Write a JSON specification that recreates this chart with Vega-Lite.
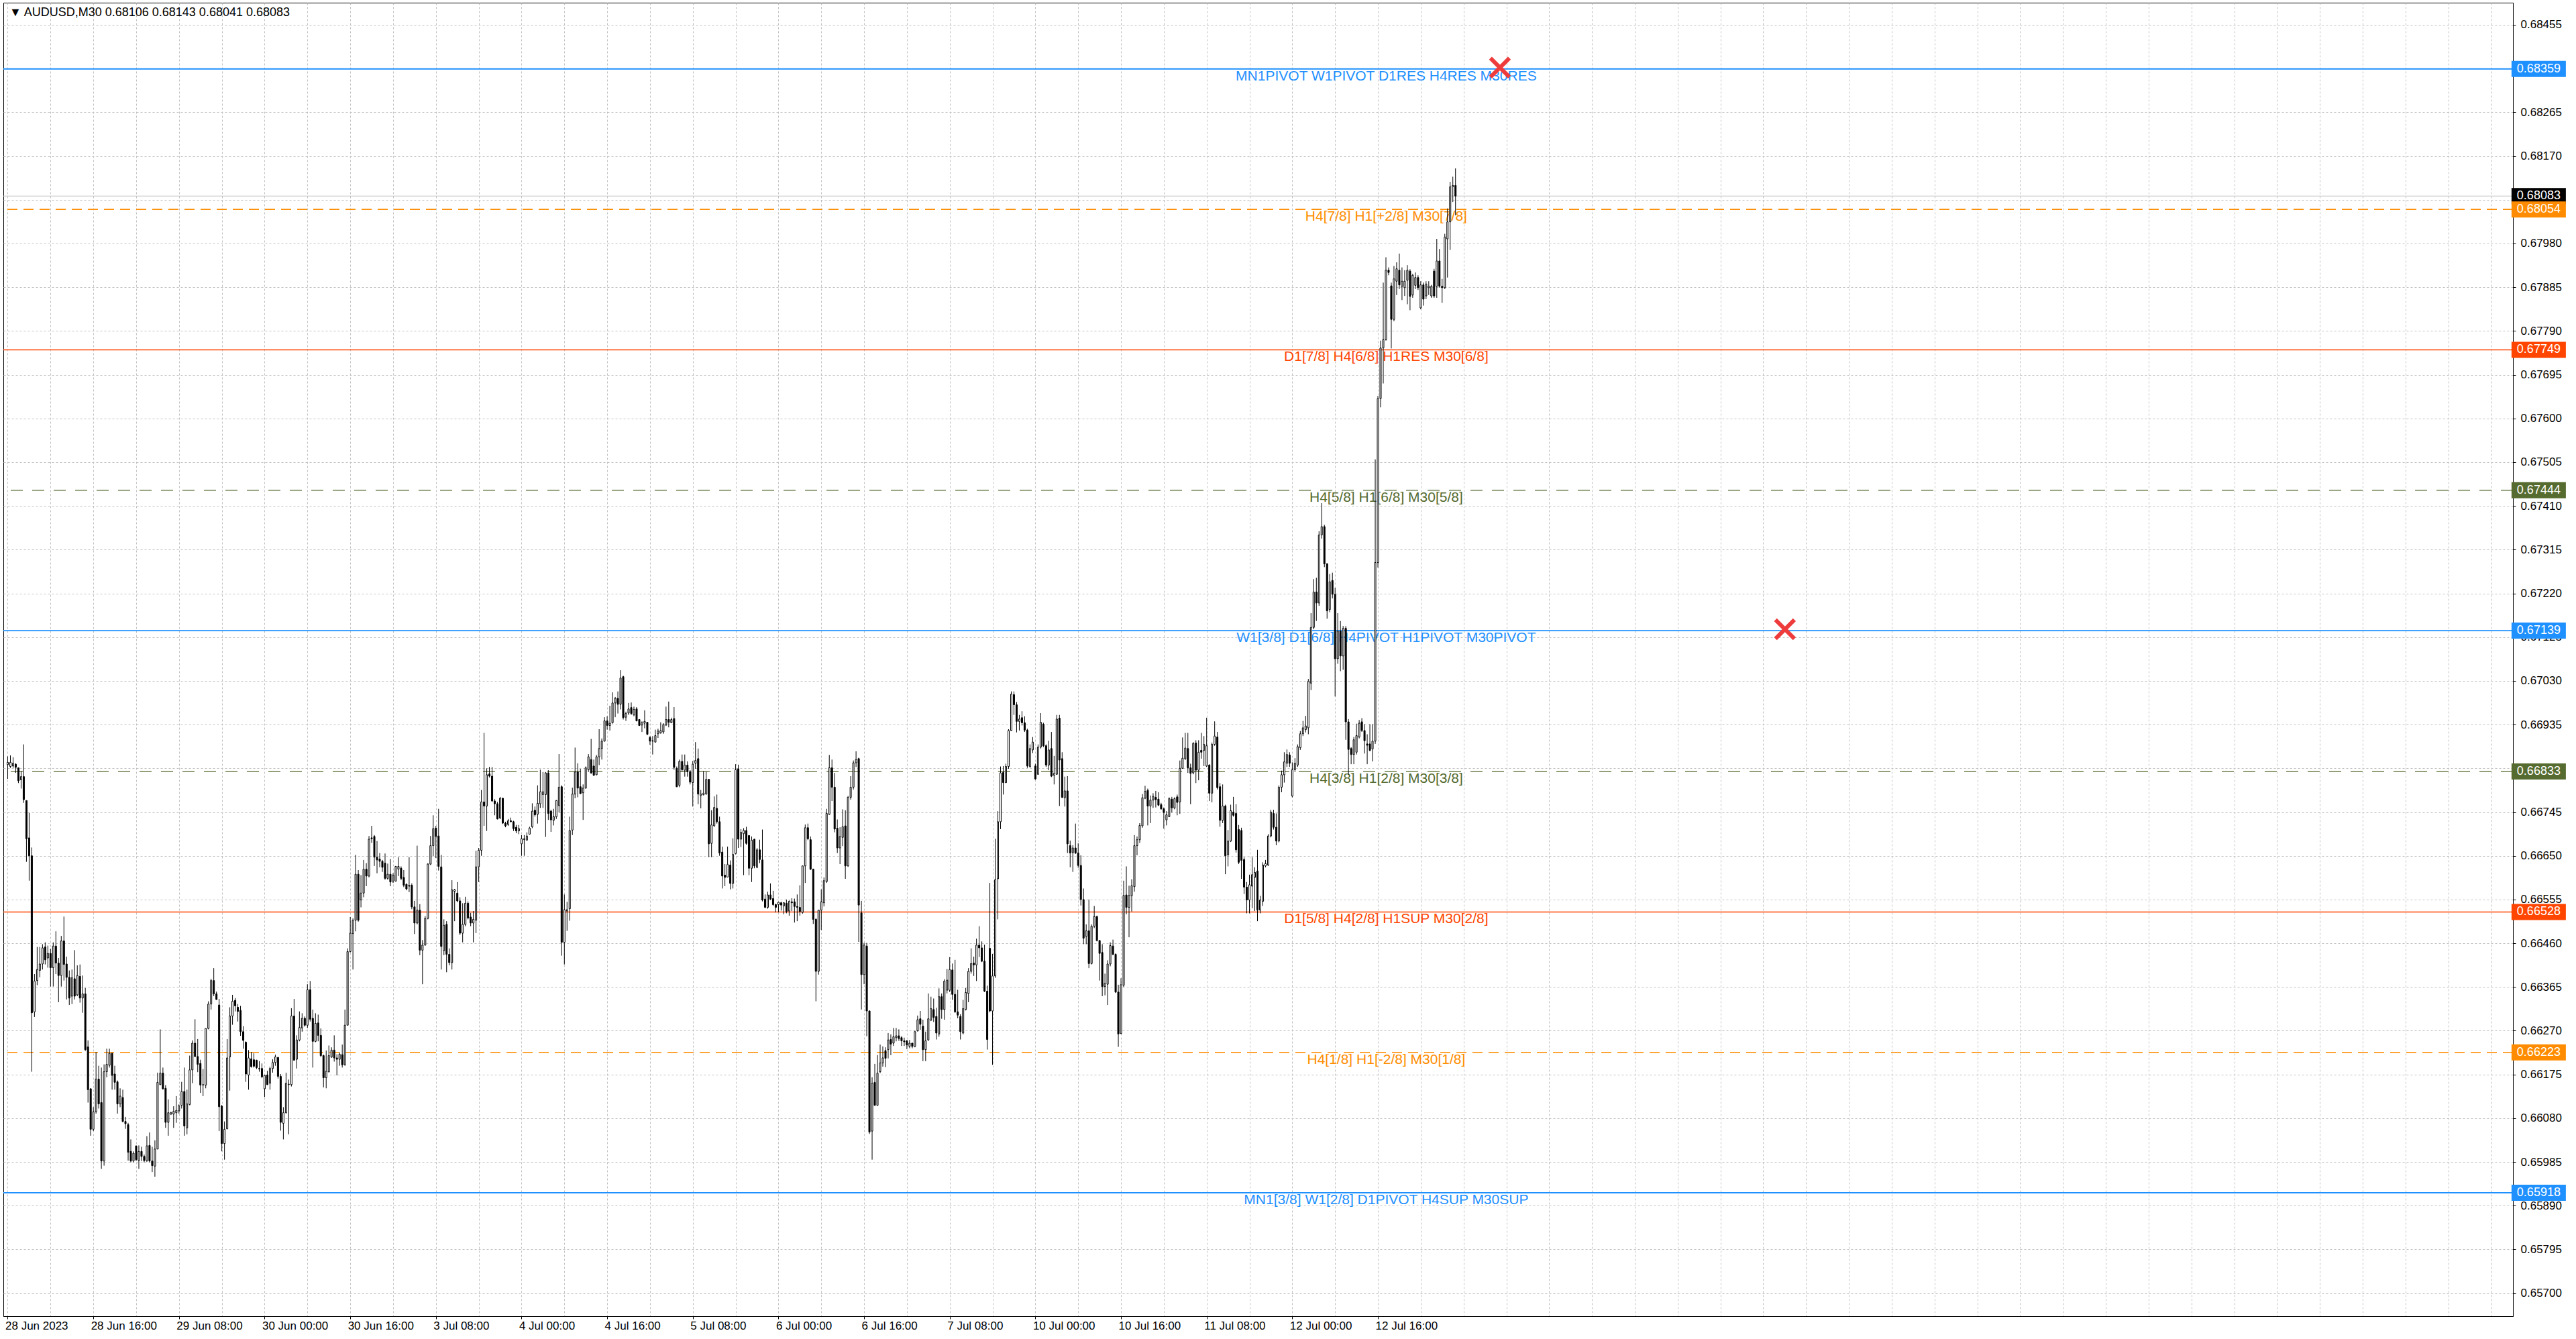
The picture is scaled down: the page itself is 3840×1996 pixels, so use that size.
{
  "$schema": "https://vega.github.io/schema/vega-lite/v6.json",
  "width": 3741,
  "height": 1958,
  "padding": {"left": 4, "top": 4, "right": 0, "bottom": 0},
  "background": "#ffffff",
  "config": {
    "view": {"stroke": "#000000", "strokeWidth": 1},
    "font": "Liberation Sans",
    "axis": {
      "grid": true, "gridColor": "#c0c0c0", "gridDash": [3, 3], "gridWidth": 1,
      "domainColor": "#000000", "domainWidth": 1,
      "tickColor": "#000000", "tickSize": 4, "tickWidth": 1,
      "labelFont": "Liberation Sans", "labelFontSize": 17, "labelColor": "#000000",
      "labelOverlap": false, "labelFlush": false, "labelBound": false
    }
  },
  "datasets": {
    "header": [{"t": "▼ AUDUSD,M30  0.68106 0.68143 0.68041 0.68083"}],
    "levels": [
      {"p": 0.68359, "k": "mn", "t": "MN1PIVOT W1PIVOT D1RES H4RES M30RES"},
      {"p": 0.68083, "k": "cur", "t": ""},
      {"p": 0.68054, "k": "oct", "t": "H4[7/8] H1[+2/8] M30[7/8]"},
      {"p": 0.67749, "k": "rng", "t": "D1[7/8] H4[6/8] H1RES M30[6/8]"},
      {"p": 0.67444, "k": "qtr", "t": "H4[5/8] H1[6/8] M30[5/8]"},
      {"p": 0.67139, "k": "piv", "t": "W1[3/8] D1[6/8] H4PIVOT H1PIVOT M30PIVOT"},
      {"p": 0.66833, "k": "qtr", "t": "H4[3/8] H1[2/8] M30[3/8]"},
      {"p": 0.66528, "k": "rng", "t": "D1[5/8] H4[2/8] H1SUP M30[2/8]"},
      {"p": 0.66223, "k": "oct", "t": "H4[1/8] H1[-2/8] M30[1/8]"},
      {"p": 0.65918, "k": "mn", "t": "MN1[3/8] W1[2/8] D1PIVOT H4SUP M30SUP"}
    ],
    "crosses": [
      {"i": 557.6, "p": 0.68362},
      {"i": 664.1, "p": 0.67142}
    ],
    "candles": [
{"i":0,"o":0.66848,"h":0.66866,"l":0.66817,"c":0.66853},
{"i":1,"o":0.66844,"h":0.66868,"l":0.66841,"c":0.66853},
{"i":2,"o":0.66845,"h":0.66864,"l":0.66841,"c":0.66851},
{"i":3,"o":0.66849,"h":0.66851,"l":0.6683,"c":0.66842},
{"i":4,"o":0.66841,"h":0.66842,"l":0.66808,"c":0.66813},
{"i":5,"o":0.66815,"h":0.66834,"l":0.66796,"c":0.66822},
{"i":6,"o":0.66822,"h":0.66892,"l":0.66765,"c":0.66772},
{"i":7,"o":0.6677,"h":0.6677,"l":0.66637,"c":0.66687},
{"i":8,"o":0.66689,"h":0.66743,"l":0.66596,"c":0.6665},
{"i":9,"o":0.6665,"h":0.66668,"l":0.66181,"c":0.66309},
{"i":10,"o":0.66311,"h":0.66393,"l":0.663,"c":0.66378},
{"i":11,"o":0.66379,"h":0.66452,"l":0.66369,"c":0.66403},
{"i":12,"o":0.66401,"h":0.66452,"l":0.66386,"c":0.66415},
{"i":13,"o":0.66415,"h":0.66458,"l":0.66403,"c":0.6645},
{"i":14,"o":0.66452,"h":0.66462,"l":0.66414,"c":0.66424},
{"i":15,"o":0.66428,"h":0.66455,"l":0.66407,"c":0.66438},
{"i":16,"o":0.66438,"h":0.66448,"l":0.66366,"c":0.66407},
{"i":17,"o":0.66407,"h":0.66462,"l":0.66366,"c":0.66454},
{"i":18,"o":0.66454,"h":0.66486,"l":0.66393,"c":0.66417},
{"i":19,"o":0.66417,"h":0.66428,"l":0.66332,"c":0.6639},
{"i":20,"o":0.6639,"h":0.66476,"l":0.66366,"c":0.66465},
{"i":21,"o":0.66465,"h":0.66518,"l":0.66379,"c":0.66414},
{"i":22,"o":0.66415,"h":0.66431,"l":0.66338,"c":0.66386},
{"i":23,"o":0.66386,"h":0.66401,"l":0.66326,"c":0.66341},
{"i":24,"o":0.66345,"h":0.66403,"l":0.66328,"c":0.66385},
{"i":25,"o":0.66383,"h":0.66445,"l":0.66338,"c":0.66345},
{"i":26,"o":0.66348,"h":0.66412,"l":0.66345,"c":0.6639},
{"i":27,"o":0.66388,"h":0.66414,"l":0.66331,"c":0.66341},
{"i":28,"o":0.66341,"h":0.6639,"l":0.66309,"c":0.6635},
{"i":29,"o":0.6635,"h":0.66363,"l":0.66226,"c":0.66229},
{"i":30,"o":0.66235,"h":0.66249,"l":0.66114,"c":0.66142},
{"i":31,"o":0.66144,"h":0.66145,"l":0.66042,"c":0.66056},
{"i":32,"o":0.66056,"h":0.66104,"l":0.66052,"c":0.66094},
{"i":33,"o":0.66094,"h":0.66224,"l":0.6609,"c":0.66165},
{"i":34,"o":0.66165,"h":0.66194,"l":0.66101,"c":0.66111},
{"i":35,"o":0.66114,"h":0.6619,"l":0.6597,"c":0.65987},
{"i":36,"o":0.65987,"h":0.66197,"l":0.65977,"c":0.66181},
{"i":37,"o":0.66181,"h":0.66231,"l":0.66169,"c":0.66197},
{"i":38,"o":0.66195,"h":0.66231,"l":0.6619,"c":0.66221},
{"i":39,"o":0.66221,"h":0.66222,"l":0.66142,"c":0.66173},
{"i":40,"o":0.66176,"h":0.66194,"l":0.66142,"c":0.66158},
{"i":41,"o":0.66159,"h":0.66162,"l":0.6609,"c":0.66111},
{"i":42,"o":0.66111,"h":0.66145,"l":0.66104,"c":0.66128},
{"i":43,"o":0.66125,"h":0.66142,"l":0.66071,"c":0.66073},
{"i":44,"o":0.66073,"h":0.66083,"l":0.66057,"c":0.66068},
{"i":45,"o":0.66066,"h":0.6607,"l":0.65988,"c":0.66006},
{"i":46,"o":0.66008,"h":0.66034,"l":0.65984,"c":0.65987},
{"i":47,"o":0.65987,"h":0.66008,"l":0.65984,"c":0.66004},
{"i":48,"o":0.6602,"h":0.6602,"l":0.65987,"c":0.6599},
{"i":49,"o":0.65988,"h":0.66021,"l":0.6597,"c":0.66008},
{"i":50,"o":0.66008,"h":0.66018,"l":0.65987,"c":0.65997},
{"i":51,"o":0.65997,"h":0.66001,"l":0.65984,"c":0.65988},
{"i":52,"o":0.65988,"h":0.66041,"l":0.65985,"c":0.6602},
{"i":53,"o":0.66021,"h":0.66049,"l":0.65984,"c":0.65987},
{"i":54,"o":0.65987,"h":0.66018,"l":0.65963,"c":0.65977},
{"i":55,"o":0.65976,"h":0.66032,"l":0.65953,"c":0.66013},
{"i":56,"o":0.66013,"h":0.66179,"l":0.66013,"c":0.66158},
{"i":57,"o":0.66153,"h":0.66273,"l":0.66152,"c":0.66178},
{"i":58,"o":0.66178,"h":0.6619,"l":0.66142,"c":0.66144},
{"i":59,"o":0.66145,"h":0.66152,"l":0.66059,"c":0.66071},
{"i":60,"o":0.66071,"h":0.66121,"l":0.66042,"c":0.66092},
{"i":61,"o":0.66089,"h":0.66094,"l":0.66087,"c":0.66092},
{"i":62,"o":0.66089,"h":0.66106,"l":0.66059,"c":0.66095},
{"i":63,"o":0.66092,"h":0.66128,"l":0.6607,"c":0.66097},
{"i":64,"o":0.66096,"h":0.6611,"l":0.6609,"c":0.66107},
{"i":65,"o":0.66108,"h":0.66159,"l":0.66101,"c":0.66138},
{"i":66,"o":0.66138,"h":0.6619,"l":0.66042,"c":0.66063},
{"i":67,"o":0.66059,"h":0.66142,"l":0.66045,"c":0.66111},
{"i":68,"o":0.6611,"h":0.66216,"l":0.66108,"c":0.66185},
{"i":69,"o":0.66185,"h":0.66249,"l":0.66156,"c":0.66243},
{"i":70,"o":0.66243,"h":0.66295,"l":0.66213,"c":0.66214},
{"i":71,"o":0.66214,"h":0.66252,"l":0.6618,"c":0.66197},
{"i":72,"o":0.66199,"h":0.66207,"l":0.66135,"c":0.66152},
{"i":73,"o":0.66152,"h":0.66187,"l":0.66128,"c":0.66153},
{"i":74,"o":0.66152,"h":0.66275,"l":0.66145,"c":0.66275},
{"i":75,"o":0.66275,"h":0.66334,"l":0.66273,"c":0.66328},
{"i":76,"o":0.66328,"h":0.66383,"l":0.66316,"c":0.66379},
{"i":77,"o":0.66379,"h":0.66406,"l":0.66345,"c":0.6635},
{"i":78,"o":0.6635,"h":0.66355,"l":0.66337,"c":0.66338},
{"i":79,"o":0.66326,"h":0.66339,"l":0.66052,"c":0.66105},
{"i":80,"o":0.66106,"h":0.66109,"l":0.66008,"c":0.66025},
{"i":81,"o":0.66025,"h":0.66073,"l":0.6599,"c":0.66056},
{"i":82,"o":0.66057,"h":0.66252,"l":0.66056,"c":0.66211},
{"i":83,"o":0.66213,"h":0.66321,"l":0.6614,"c":0.66302},
{"i":84,"o":0.66302,"h":0.66348,"l":0.66283,"c":0.66334},
{"i":85,"o":0.66336,"h":0.66341,"l":0.66312,"c":0.66324},
{"i":86,"o":0.66321,"h":0.66328,"l":0.6629,"c":0.66312},
{"i":87,"o":0.66314,"h":0.66324,"l":0.66259,"c":0.66268},
{"i":88,"o":0.66268,"h":0.6628,"l":0.66231,"c":0.66249},
{"i":89,"o":0.66245,"h":0.66247,"l":0.66159,"c":0.66176},
{"i":90,"o":0.66174,"h":0.66228,"l":0.66142,"c":0.66211},
{"i":91,"o":0.66209,"h":0.66224,"l":0.6619,"c":0.66192},
{"i":92,"o":0.66207,"h":0.66221,"l":0.6619,"c":0.66193},
{"i":93,"o":0.66206,"h":0.66207,"l":0.66187,"c":0.6619},
{"i":94,"o":0.66188,"h":0.66204,"l":0.66181,"c":0.66187},
{"i":95,"o":0.66188,"h":0.66199,"l":0.66167,"c":0.6617},
{"i":96,"o":0.66144,"h":0.66174,"l":0.66126,"c":0.66173},
{"i":97,"o":0.66174,"h":0.66183,"l":0.66152,"c":0.66153},
{"i":98,"o":0.66156,"h":0.66192,"l":0.66142,"c":0.66188},
{"i":99,"o":0.66188,"h":0.66208,"l":0.66179,"c":0.66201},
{"i":100,"o":0.66201,"h":0.66218,"l":0.66194,"c":0.66213},
{"i":101,"o":0.66212,"h":0.66213,"l":0.66166,"c":0.66171},
{"i":102,"o":0.66171,"h":0.66176,"l":0.66053,"c":0.66071},
{"i":103,"o":0.66069,"h":0.66104,"l":0.66034,"c":0.66092},
{"i":104,"o":0.66092,"h":0.66179,"l":0.6609,"c":0.66156},
{"i":105,"o":0.66153,"h":0.66164,"l":0.66045,"c":0.66154},
{"i":106,"o":0.66153,"h":0.66319,"l":0.66149,"c":0.66302},
{"i":107,"o":0.66302,"h":0.66339,"l":0.66205,"c":0.66206},
{"i":108,"o":0.66208,"h":0.6626,"l":0.66188,"c":0.6625},
{"i":109,"o":0.6625,"h":0.66312,"l":0.66247,"c":0.66277},
{"i":110,"o":0.66276,"h":0.66308,"l":0.66268,"c":0.66297},
{"i":111,"o":0.66297,"h":0.66301,"l":0.66279,"c":0.66282},
{"i":112,"o":0.66282,"h":0.66371,"l":0.66276,"c":0.66359},
{"i":113,"o":0.66359,"h":0.66378,"l":0.6629,"c":0.66295},
{"i":114,"o":0.66297,"h":0.66316,"l":0.6619,"c":0.66247},
{"i":115,"o":0.66247,"h":0.66308,"l":0.66245,"c":0.66286},
{"i":116,"o":0.66287,"h":0.66305,"l":0.66247,"c":0.6626},
{"i":117,"o":0.6626,"h":0.66275,"l":0.66213,"c":0.66216},
{"i":118,"o":0.66216,"h":0.66218,"l":0.66147,"c":0.66168},
{"i":119,"o":0.66168,"h":0.66227,"l":0.66145,"c":0.66182},
{"i":120,"o":0.66181,"h":0.66238,"l":0.66179,"c":0.66216},
{"i":121,"o":0.66213,"h":0.66234,"l":0.66211,"c":0.66228},
{"i":122,"o":0.66228,"h":0.6626,"l":0.66203,"c":0.66211},
{"i":123,"o":0.66211,"h":0.66219,"l":0.66173,"c":0.66208},
{"i":124,"o":0.66208,"h":0.66223,"l":0.66194,"c":0.66219},
{"i":125,"o":0.66218,"h":0.6624,"l":0.6619,"c":0.66196},
{"i":126,"o":0.66196,"h":0.66316,"l":0.66194,"c":0.66282},
{"i":127,"o":0.66282,"h":0.66449,"l":0.66282,"c":0.66442},
{"i":128,"o":0.66442,"h":0.66517,"l":0.6644,"c":0.66482},
{"i":129,"o":0.66481,"h":0.66514,"l":0.66403,"c":0.6651},
{"i":130,"o":0.6651,"h":0.66652,"l":0.66486,"c":0.6661},
{"i":131,"o":0.6661,"h":0.66619,"l":0.66507,"c":0.6651},
{"i":132,"o":0.66554,"h":0.66608,"l":0.66538,"c":0.66569},
{"i":133,"o":0.66569,"h":0.66641,"l":0.6656,"c":0.66621},
{"i":134,"o":0.66621,"h":0.66634,"l":0.66584,"c":0.66606},
{"i":135,"o":0.66606,"h":0.66693,"l":0.66603,"c":0.66686},
{"i":136,"o":0.66689,"h":0.66715,"l":0.66678,"c":0.66687},
{"i":137,"o":0.66692,"h":0.66695,"l":0.66628,"c":0.66647},
{"i":138,"o":0.66647,"h":0.66682,"l":0.66612,"c":0.66641},
{"i":139,"o":0.66643,"h":0.66656,"l":0.66625,"c":0.66638},
{"i":140,"o":0.66638,"h":0.66641,"l":0.66615,"c":0.66625},
{"i":141,"o":0.66634,"h":0.66655,"l":0.66598,"c":0.66601},
{"i":142,"o":0.66601,"h":0.66633,"l":0.66598,"c":0.6661},
{"i":143,"o":0.6661,"h":0.66643,"l":0.66584,"c":0.66593},
{"i":144,"o":0.66595,"h":0.66612,"l":0.66591,"c":0.66608},
{"i":145,"o":0.66595,"h":0.66628,"l":0.66594,"c":0.66627},
{"i":146,"o":0.66621,"h":0.66647,"l":0.66606,"c":0.66627},
{"i":147,"o":0.66623,"h":0.66627,"l":0.66597,"c":0.66601},
{"i":148,"o":0.66603,"h":0.66619,"l":0.66582,"c":0.66586},
{"i":149,"o":0.66588,"h":0.6659,"l":0.66575,"c":0.66578},
{"i":150,"o":0.66584,"h":0.66647,"l":0.66571,"c":0.66586},
{"i":151,"o":0.66586,"h":0.6659,"l":0.66534,"c":0.66539},
{"i":152,"o":0.66539,"h":0.66552,"l":0.6648,"c":0.66504},
{"i":153,"o":0.66504,"h":0.66672,"l":0.66501,"c":0.66532},
{"i":154,"o":0.66532,"h":0.66545,"l":0.66434,"c":0.66445},
{"i":155,"o":0.66445,"h":0.66467,"l":0.66371,"c":0.66456},
{"i":156,"o":0.66456,"h":0.66519,"l":0.66455,"c":0.66514},
{"i":157,"o":0.66514,"h":0.66634,"l":0.66512,"c":0.66632},
{"i":158,"o":0.66632,"h":0.66693,"l":0.6663,"c":0.66672},
{"i":159,"o":0.66672,"h":0.66738,"l":0.66649,"c":0.66709},
{"i":160,"o":0.6671,"h":0.66715,"l":0.66645,"c":0.66692},
{"i":161,"o":0.66693,"h":0.66752,"l":0.66618,"c":0.66627},
{"i":162,"o":0.66626,"h":0.66652,"l":0.66403,"c":0.66453},
{"i":163,"o":0.66444,"h":0.66512,"l":0.66434,"c":0.66499},
{"i":164,"o":0.66501,"h":0.66508,"l":0.66397,"c":0.66436},
{"i":165,"o":0.66436,"h":0.66449,"l":0.66412,"c":0.66418},
{"i":166,"o":0.66418,"h":0.66597,"l":0.66403,"c":0.66576},
{"i":167,"o":0.66573,"h":0.66578,"l":0.66508,"c":0.66576},
{"i":168,"o":0.66569,"h":0.66593,"l":0.66549,"c":0.66552},
{"i":169,"o":0.66552,"h":0.6656,"l":0.66478,"c":0.66482},
{"i":170,"o":0.66482,"h":0.66547,"l":0.66462,"c":0.66501},
{"i":171,"o":0.66501,"h":0.66561,"l":0.66497,"c":0.66547},
{"i":172,"o":0.66547,"h":0.66551,"l":0.66512,"c":0.66515},
{"i":173,"o":0.66517,"h":0.66526,"l":0.66497,"c":0.66504},
{"i":174,"o":0.66504,"h":0.6653,"l":0.66462,"c":0.66512},
{"i":175,"o":0.6651,"h":0.66661,"l":0.66482,"c":0.66626},
{"i":176,"o":0.66626,"h":0.66667,"l":0.66593,"c":0.66662},
{"i":177,"o":0.66662,"h":0.66793,"l":0.6665,"c":0.66767},
{"i":178,"o":0.66767,"h":0.66917,"l":0.66715,"c":0.66758},
{"i":179,"o":0.66758,"h":0.6684,"l":0.66704,"c":0.66826},
{"i":180,"o":0.66828,"h":0.66843,"l":0.6682,"c":0.66823},
{"i":181,"o":0.66823,"h":0.66843,"l":0.66767,"c":0.66769},
{"i":182,"o":0.66769,"h":0.66773,"l":0.66738,"c":0.66763},
{"i":183,"o":0.66763,"h":0.66767,"l":0.66729,"c":0.6673},
{"i":184,"o":0.66732,"h":0.66778,"l":0.6673,"c":0.66775},
{"i":185,"o":0.66775,"h":0.66776,"l":0.66719,"c":0.66721},
{"i":186,"o":0.66721,"h":0.66724,"l":0.66712,"c":0.66715},
{"i":187,"o":0.66718,"h":0.6673,"l":0.66715,"c":0.66726},
{"i":188,"o":0.66726,"h":0.66733,"l":0.66723,"c":0.66724},
{"i":189,"o":0.66724,"h":0.66726,"l":0.66704,"c":0.66709},
{"i":190,"o":0.66712,"h":0.66717,"l":0.66699,"c":0.66704},
{"i":191,"o":0.66704,"h":0.66717,"l":0.66697,"c":0.66709},
{"i":192,"o":0.66676,"h":0.66695,"l":0.6665,"c":0.66687},
{"i":193,"o":0.66685,"h":0.66695,"l":0.6665,"c":0.66687},
{"i":194,"o":0.66684,"h":0.66701,"l":0.66684,"c":0.66693},
{"i":195,"o":0.66697,"h":0.66713,"l":0.66696,"c":0.6671},
{"i":196,"o":0.66713,"h":0.66764,"l":0.6671,"c":0.66747},
{"i":197,"o":0.66749,"h":0.66757,"l":0.66735,"c":0.66739},
{"i":198,"o":0.6674,"h":0.66803,"l":0.6672,"c":0.66764},
{"i":199,"o":0.66763,"h":0.66837,"l":0.66754,"c":0.66789},
{"i":200,"o":0.66783,"h":0.66832,"l":0.66754,"c":0.66789},
{"i":201,"o":0.66783,"h":0.66832,"l":0.66691,"c":0.6683},
{"i":202,"o":0.6683,"h":0.66836,"l":0.66728,"c":0.66742},
{"i":203,"o":0.66747,"h":0.6675,"l":0.66702,"c":0.66728},
{"i":204,"o":0.66727,"h":0.66752,"l":0.66716,"c":0.66735},
{"i":205,"o":0.66735,"h":0.66771,"l":0.6673,"c":0.6677},
{"i":206,"o":0.66759,"h":0.66871,"l":0.66744,"c":0.66799},
{"i":207,"o":0.668,"h":0.66803,"l":0.66433,"c":0.66462},
{"i":208,"o":0.66462,"h":0.66566,"l":0.66414,"c":0.66533},
{"i":209,"o":0.6653,"h":0.6655,"l":0.66487,"c":0.66533},
{"i":210,"o":0.66535,"h":0.66735,"l":0.66509,"c":0.66705},
{"i":211,"o":0.66706,"h":0.66798,"l":0.66695,"c":0.66784},
{"i":212,"o":0.66784,"h":0.66885,"l":0.66775,"c":0.66832},
{"i":213,"o":0.66832,"h":0.66851,"l":0.66777,"c":0.66797},
{"i":214,"o":0.668,"h":0.66839,"l":0.66784,"c":0.66785},
{"i":215,"o":0.66787,"h":0.66805,"l":0.66728,"c":0.66797},
{"i":216,"o":0.66797,"h":0.66844,"l":0.66796,"c":0.66841},
{"i":217,"o":0.66837,"h":0.66871,"l":0.66832,"c":0.66865},
{"i":218,"o":0.66859,"h":0.66904,"l":0.66828,"c":0.6683},
{"i":219,"o":0.66845,"h":0.66859,"l":0.66823,"c":0.66825},
{"i":220,"o":0.66826,"h":0.66869,"l":0.66825,"c":0.66865},
{"i":221,"o":0.66865,"h":0.66925,"l":0.66847,"c":0.66883},
{"i":222,"o":0.66883,"h":0.66905,"l":0.66859,"c":0.66899},
{"i":223,"o":0.66899,"h":0.66951,"l":0.66898,"c":0.66943},
{"i":224,"o":0.66943,"h":0.66953,"l":0.66924,"c":0.66933},
{"i":225,"o":0.66933,"h":0.66976,"l":0.66922,"c":0.66938},
{"i":226,"o":0.66939,"h":0.67005,"l":0.66937,"c":0.66982},
{"i":227,"o":0.66982,"h":0.66995,"l":0.66951,"c":0.66992},
{"i":228,"o":0.66992,"h":0.67007,"l":0.66959,"c":0.66979},
{"i":229,"o":0.66979,"h":0.67053,"l":0.66968,"c":0.67036},
{"i":230,"o":0.67039,"h":0.67041,"l":0.66946,"c":0.6695},
{"i":231,"o":0.66951,"h":0.66963,"l":0.66943,"c":0.66959},
{"i":232,"o":0.6696,"h":0.66982,"l":0.66956,"c":0.66969},
{"i":233,"o":0.66972,"h":0.66983,"l":0.66956,"c":0.66959},
{"i":234,"o":0.66956,"h":0.66974,"l":0.66953,"c":0.66968},
{"i":235,"o":0.66969,"h":0.66973,"l":0.66942,"c":0.66943},
{"i":236,"o":0.66946,"h":0.66947,"l":0.66932,"c":0.66933},
{"i":237,"o":0.66934,"h":0.66942,"l":0.66919,"c":0.66939},
{"i":238,"o":0.66938,"h":0.66966,"l":0.66927,"c":0.66942},
{"i":239,"o":0.6694,"h":0.6694,"l":0.66912,"c":0.66914},
{"i":240,"o":0.66907,"h":0.6691,"l":0.66891,"c":0.66899},
{"i":241,"o":0.669,"h":0.6691,"l":0.6687,"c":0.66899},
{"i":242,"o":0.66897,"h":0.66924,"l":0.66896,"c":0.66911},
{"i":243,"o":0.66915,"h":0.66926,"l":0.66906,"c":0.66921},
{"i":244,"o":0.66917,"h":0.6694,"l":0.66915,"c":0.66922},
{"i":245,"o":0.66919,"h":0.66938,"l":0.66915,"c":0.66935},
{"i":246,"o":0.66934,"h":0.66974,"l":0.66932,"c":0.66946},
{"i":247,"o":0.66946,"h":0.66985,"l":0.66929,"c":0.6694},
{"i":248,"o":0.66939,"h":0.6695,"l":0.66938,"c":0.66946},
{"i":249,"o":0.66948,"h":0.66973,"l":0.66837,"c":0.66842},
{"i":250,"o":0.6684,"h":0.66844,"l":0.66799,"c":0.668},
{"i":251,"o":0.66803,"h":0.66859,"l":0.66799,"c":0.66855},
{"i":252,"o":0.66855,"h":0.6687,"l":0.66833,"c":0.66837},
{"i":253,"o":0.66836,"h":0.6687,"l":0.66822,"c":0.66847},
{"i":254,"o":0.66847,"h":0.66855,"l":0.66822,"c":0.66833},
{"i":255,"o":0.66833,"h":0.66836,"l":0.66805,"c":0.6681},
{"i":256,"o":0.66809,"h":0.66856,"l":0.66757,"c":0.66849},
{"i":257,"o":0.66851,"h":0.66897,"l":0.66839,"c":0.66857},
{"i":258,"o":0.66861,"h":0.66883,"l":0.66762,"c":0.66784},
{"i":259,"o":0.66781,"h":0.66793,"l":0.66753,"c":0.66784},
{"i":260,"o":0.66783,"h":0.66834,"l":0.66781,"c":0.66786},
{"i":261,"o":0.66784,"h":0.66833,"l":0.66783,"c":0.66816},
{"i":262,"o":0.66816,"h":0.66817,"l":0.66647,"c":0.66676},
{"i":263,"o":0.66677,"h":0.66749,"l":0.66647,"c":0.66717},
{"i":264,"o":0.66715,"h":0.66779,"l":0.66713,"c":0.66755},
{"i":265,"o":0.66753,"h":0.66783,"l":0.6672,"c":0.66724},
{"i":266,"o":0.66724,"h":0.66735,"l":0.6665,"c":0.66656},
{"i":267,"o":0.66658,"h":0.6667,"l":0.66579,"c":0.66606},
{"i":268,"o":0.66608,"h":0.66632,"l":0.66584,"c":0.66603},
{"i":269,"o":0.66604,"h":0.6667,"l":0.66603,"c":0.66631},
{"i":270,"o":0.6663,"h":0.6664,"l":0.66577,"c":0.6659},
{"i":271,"o":0.6659,"h":0.66688,"l":0.66579,"c":0.66653},
{"i":272,"o":0.66655,"h":0.66849,"l":0.66653,"c":0.66837},
{"i":273,"o":0.66839,"h":0.66848,"l":0.66667,"c":0.66686},
{"i":274,"o":0.66686,"h":0.66708,"l":0.66669,"c":0.66701},
{"i":275,"o":0.66698,"h":0.6671,"l":0.66608,"c":0.66705},
{"i":276,"o":0.66705,"h":0.66713,"l":0.66674,"c":0.66677},
{"i":277,"o":0.66694,"h":0.66695,"l":0.66608,"c":0.66623},
{"i":278,"o":0.66623,"h":0.66692,"l":0.66593,"c":0.66684},
{"i":279,"o":0.66686,"h":0.66687,"l":0.66623,"c":0.66628},
{"i":280,"o":0.66625,"h":0.66667,"l":0.66623,"c":0.66663},
{"i":281,"o":0.66663,"h":0.66685,"l":0.66634,"c":0.66642},
{"i":282,"o":0.66641,"h":0.66707,"l":0.66551,"c":0.66554},
{"i":283,"o":0.66556,"h":0.66566,"l":0.66536,"c":0.66538},
{"i":284,"o":0.66538,"h":0.66572,"l":0.66535,"c":0.66565},
{"i":285,"o":0.66565,"h":0.6659,"l":0.66554,"c":0.66556},
{"i":286,"o":0.66557,"h":0.66574,"l":0.66541,"c":0.66544},
{"i":287,"o":0.66544,"h":0.66546,"l":0.66527,"c":0.66538},
{"i":288,"o":0.66544,"h":0.6655,"l":0.66527,"c":0.66549},
{"i":289,"o":0.66548,"h":0.6655,"l":0.66531,"c":0.66543},
{"i":290,"o":0.66541,"h":0.66549,"l":0.66523,"c":0.66548},
{"i":291,"o":0.66547,"h":0.66555,"l":0.66525,"c":0.66529},
{"i":292,"o":0.6653,"h":0.66553,"l":0.6652,"c":0.66551},
{"i":293,"o":0.6655,"h":0.66558,"l":0.6653,"c":0.66548},
{"i":294,"o":0.6655,"h":0.66557,"l":0.66505,"c":0.6654},
{"i":295,"o":0.6654,"h":0.66566,"l":0.66508,"c":0.66538},
{"i":296,"o":0.66538,"h":0.66586,"l":0.6652,"c":0.66529},
{"i":297,"o":0.66527,"h":0.66629,"l":0.66524,"c":0.66628},
{"i":298,"o":0.66628,"h":0.66718,"l":0.66591,"c":0.66711},
{"i":299,"o":0.66711,"h":0.6672,"l":0.66684,"c":0.66687},
{"i":300,"o":0.66685,"h":0.66692,"l":0.66619,"c":0.66621},
{"i":301,"o":0.66621,"h":0.66622,"l":0.66502,"c":0.66512},
{"i":302,"o":0.66512,"h":0.66514,"l":0.66334,"c":0.66399},
{"i":303,"o":0.66399,"h":0.66533,"l":0.66392,"c":0.66532},
{"i":304,"o":0.66532,"h":0.66577,"l":0.66489,"c":0.6655},
{"i":305,"o":0.66548,"h":0.66603,"l":0.6654,"c":0.66596},
{"i":306,"o":0.66594,"h":0.66752,"l":0.66591,"c":0.66742},
{"i":307,"o":0.6674,"h":0.66869,"l":0.66739,"c":0.66841},
{"i":308,"o":0.66841,"h":0.66859,"l":0.66769,"c":0.66799},
{"i":309,"o":0.66799,"h":0.6683,"l":0.66701,"c":0.66708},
{"i":310,"o":0.6671,"h":0.66729,"l":0.66656,"c":0.66667},
{"i":311,"o":0.66667,"h":0.66712,"l":0.66632,"c":0.66692},
{"i":312,"o":0.6669,"h":0.66751,"l":0.66671,"c":0.66713},
{"i":313,"o":0.66715,"h":0.66749,"l":0.666,"c":0.66628},
{"i":314,"o":0.66628,"h":0.6678,"l":0.66626,"c":0.66777},
{"i":315,"o":0.66777,"h":0.66823,"l":0.66772,"c":0.66799},
{"i":316,"o":0.66799,"h":0.66857,"l":0.66794,"c":0.66852},
{"i":317,"o":0.66852,"h":0.66877,"l":0.66843,"c":0.66859},
{"i":318,"o":0.66861,"h":0.66863,"l":0.66463,"c":0.66543},
{"i":319,"o":0.66526,"h":0.66552,"l":0.66316,"c":0.66392},
{"i":320,"o":0.66392,"h":0.66461,"l":0.66371,"c":0.66456},
{"i":321,"o":0.66454,"h":0.66461,"l":0.66258,"c":0.66313},
{"i":322,"o":0.66313,"h":0.66314,"l":0.66046,"c":0.6605},
{"i":323,"o":0.66052,"h":0.66169,"l":0.6599,"c":0.66156},
{"i":324,"o":0.66158,"h":0.66198,"l":0.66107,"c":0.66108},
{"i":325,"o":0.66108,"h":0.66217,"l":0.66107,"c":0.66178},
{"i":326,"o":0.66181,"h":0.6624,"l":0.66178,"c":0.662},
{"i":327,"o":0.662,"h":0.66236,"l":0.66192,"c":0.66211},
{"i":328,"o":0.66227,"h":0.66234,"l":0.66191,"c":0.6621},
{"i":329,"o":0.66229,"h":0.66265,"l":0.6621,"c":0.6625},
{"i":330,"o":0.66251,"h":0.66262,"l":0.66217,"c":0.66241},
{"i":331,"o":0.66243,"h":0.66276,"l":0.66237,"c":0.66257},
{"i":332,"o":0.66255,"h":0.66276,"l":0.66247,"c":0.66259},
{"i":333,"o":0.66259,"h":0.66273,"l":0.66248,"c":0.66253},
{"i":334,"o":0.66255,"h":0.66258,"l":0.66237,"c":0.66248},
{"i":335,"o":0.66248,"h":0.66255,"l":0.66237,"c":0.66246},
{"i":336,"o":0.66248,"h":0.6625,"l":0.6623,"c":0.66239},
{"i":337,"o":0.66236,"h":0.6625,"l":0.66232,"c":0.66243},
{"i":338,"o":0.66243,"h":0.66244,"l":0.66232,"c":0.66236},
{"i":339,"o":0.66236,"h":0.6627,"l":0.66234,"c":0.66268},
{"i":340,"o":0.6627,"h":0.66303,"l":0.66268,"c":0.66294},
{"i":341,"o":0.66296,"h":0.66313,"l":0.66272,"c":0.66284},
{"i":342,"o":0.6628,"h":0.66294,"l":0.66204,"c":0.66229},
{"i":343,"o":0.66229,"h":0.66268,"l":0.66204,"c":0.66248},
{"i":344,"o":0.6625,"h":0.66351,"l":0.66248,"c":0.66296},
{"i":345,"o":0.66293,"h":0.66344,"l":0.66291,"c":0.66318},
{"i":346,"o":0.66316,"h":0.6634,"l":0.66289,"c":0.66299},
{"i":347,"o":0.66301,"h":0.6632,"l":0.66251,"c":0.66265},
{"i":348,"o":0.66263,"h":0.66362,"l":0.66257,"c":0.66344},
{"i":349,"o":0.66344,"h":0.66351,"l":0.66296,"c":0.66316},
{"i":350,"o":0.66316,"h":0.66382,"l":0.66294,"c":0.66378},
{"i":351,"o":0.66358,"h":0.66404,"l":0.66351,"c":0.6638},
{"i":352,"o":0.66358,"h":0.6643,"l":0.66354,"c":0.66403},
{"i":353,"o":0.66402,"h":0.66416,"l":0.66337,"c":0.66349},
{"i":354,"o":0.66349,"h":0.66424,"l":0.66309,"c":0.66311},
{"i":355,"o":0.66311,"h":0.66359,"l":0.66297,"c":0.66304},
{"i":356,"o":0.66301,"h":0.66306,"l":0.66251,"c":0.66268},
{"i":357,"o":0.66265,"h":0.66337,"l":0.66262,"c":0.66318},
{"i":358,"o":0.66316,"h":0.66363,"l":0.66314,"c":0.66353},
{"i":359,"o":0.66351,"h":0.66406,"l":0.66332,"c":0.66399},
{"i":360,"o":0.66399,"h":0.66449,"l":0.66394,"c":0.66416},
{"i":361,"o":0.66417,"h":0.66431,"l":0.66389,"c":0.66413},
{"i":362,"o":0.66413,"h":0.6647,"l":0.66378,"c":0.66456},
{"i":363,"o":0.66456,"h":0.66497,"l":0.6643,"c":0.6645},
{"i":364,"o":0.6645,"h":0.66464,"l":0.66419,"c":0.66421},
{"i":365,"o":0.66421,"h":0.66457,"l":0.66354,"c":0.66356},
{"i":366,"o":0.66356,"h":0.66368,"l":0.66229,"c":0.66251},
{"i":367,"o":0.66449,"h":0.66591,"l":0.6631,"c":0.66313},
{"i":368,"o":0.66313,"h":0.66437,"l":0.66196,"c":0.66389},
{"i":369,"o":0.66389,"h":0.66687,"l":0.66385,"c":0.66598},
{"i":370,"o":0.666,"h":0.66747,"l":0.66512,"c":0.66724},
{"i":371,"o":0.66724,"h":0.66844,"l":0.66708,"c":0.6683},
{"i":372,"o":0.66831,"h":0.66845,"l":0.66783,"c":0.66809},
{"i":373,"o":0.66809,"h":0.6685,"l":0.66808,"c":0.66844},
{"i":374,"o":0.66844,"h":0.66925,"l":0.66839,"c":0.66922},
{"i":375,"o":0.66922,"h":0.67007,"l":0.66921,"c":0.67001},
{"i":376,"o":0.67,"h":0.67007,"l":0.66956,"c":0.66978},
{"i":377,"o":0.66978,"h":0.66984,"l":0.66918,"c":0.66942},
{"i":378,"o":0.66942,"h":0.66956,"l":0.66922,"c":0.66947},
{"i":379,"o":0.6695,"h":0.66964,"l":0.66933,"c":0.66939},
{"i":380,"o":0.66939,"h":0.66953,"l":0.66919,"c":0.66923},
{"i":381,"o":0.66923,"h":0.66926,"l":0.66841,"c":0.66845},
{"i":382,"o":0.66844,"h":0.66892,"l":0.66841,"c":0.66883},
{"i":383,"o":0.6688,"h":0.66908,"l":0.66873,"c":0.66897},
{"i":384,"o":0.66845,"h":0.6685,"l":0.66815,"c":0.66817},
{"i":385,"o":0.66827,"h":0.66892,"l":0.66826,"c":0.66886},
{"i":386,"o":0.66886,"h":0.6696,"l":0.66883,"c":0.6694},
{"i":387,"o":0.66936,"h":0.66939,"l":0.66886,"c":0.66889},
{"i":388,"o":0.66889,"h":0.66892,"l":0.66843,"c":0.66847},
{"i":389,"o":0.66847,"h":0.669,"l":0.66836,"c":0.6688},
{"i":390,"o":0.66883,"h":0.66919,"l":0.66821,"c":0.66823},
{"i":391,"o":0.66825,"h":0.66867,"l":0.66805,"c":0.66829},
{"i":392,"o":0.66827,"h":0.66956,"l":0.66826,"c":0.66947},
{"i":393,"o":0.66949,"h":0.66956,"l":0.66758,"c":0.66858},
{"i":394,"o":0.66861,"h":0.66875,"l":0.66775,"c":0.66777},
{"i":395,"o":0.66776,"h":0.66822,"l":0.66757,"c":0.66791},
{"i":396,"o":0.66791,"h":0.66823,"l":0.66656,"c":0.66676},
{"i":397,"o":0.66672,"h":0.66683,"l":0.66625,"c":0.66656},
{"i":398,"o":0.66657,"h":0.66673,"l":0.66615,"c":0.66667},
{"i":399,"o":0.66667,"h":0.6672,"l":0.66654,"c":0.66656},
{"i":400,"o":0.66656,"h":0.66677,"l":0.66624,"c":0.66629},
{"i":401,"o":0.66629,"h":0.66651,"l":0.66542,"c":0.66555},
{"i":402,"o":0.66555,"h":0.66579,"l":0.66458,"c":0.66471},
{"i":403,"o":0.66475,"h":0.66501,"l":0.66458,"c":0.66487},
{"i":404,"o":0.66487,"h":0.66555,"l":0.66406,"c":0.66416},
{"i":405,"o":0.66416,"h":0.66501,"l":0.66414,"c":0.66497},
{"i":406,"o":0.66497,"h":0.66541,"l":0.66493,"c":0.66518},
{"i":407,"o":0.66518,"h":0.6652,"l":0.66464,"c":0.66466},
{"i":408,"o":0.66466,"h":0.66467,"l":0.66379,"c":0.66438},
{"i":409,"o":0.6644,"h":0.66458,"l":0.66345,"c":0.66366},
{"i":410,"o":0.66366,"h":0.66394,"l":0.66347,"c":0.66373},
{"i":411,"o":0.66371,"h":0.66423,"l":0.66326,"c":0.66415},
{"i":412,"o":0.66415,"h":0.66462,"l":0.6641,"c":0.66455},
{"i":413,"o":0.66454,"h":0.66468,"l":0.66434,"c":0.66436},
{"i":414,"o":0.66436,"h":0.66438,"l":0.66352,"c":0.66354},
{"i":415,"o":0.66354,"h":0.6637,"l":0.66235,"c":0.66263},
{"i":416,"o":0.66264,"h":0.66384,"l":0.66263,"c":0.6637},
{"i":417,"o":0.66369,"h":0.66596,"l":0.66365,"c":0.66564},
{"i":418,"o":0.66565,"h":0.66627,"l":0.66523,"c":0.66538},
{"i":419,"o":0.66538,"h":0.66585,"l":0.66473,"c":0.66564},
{"i":420,"o":0.66563,"h":0.66599,"l":0.66529,"c":0.66585},
{"i":421,"o":0.66583,"h":0.66695,"l":0.66572,"c":0.66672},
{"i":422,"o":0.66672,"h":0.66692,"l":0.66651,"c":0.66685},
{"i":423,"o":0.66685,"h":0.66721,"l":0.66678,"c":0.66716},
{"i":424,"o":0.66715,"h":0.66784,"l":0.66711,"c":0.66776},
{"i":425,"o":0.66775,"h":0.66802,"l":0.66773,"c":0.6679},
{"i":426,"o":0.66792,"h":0.66796,"l":0.66716,"c":0.66758},
{"i":427,"o":0.66758,"h":0.66781,"l":0.66721,"c":0.66771},
{"i":428,"o":0.66771,"h":0.66786,"l":0.66754,"c":0.66779},
{"i":429,"o":0.66777,"h":0.66791,"l":0.66755,"c":0.66772},
{"i":430,"o":0.66773,"h":0.66788,"l":0.66758,"c":0.6676},
{"i":431,"o":0.66761,"h":0.66765,"l":0.6675,"c":0.66752},
{"i":432,"o":0.66752,"h":0.66755,"l":0.66709,"c":0.66744},
{"i":433,"o":0.66728,"h":0.66747,"l":0.66716,"c":0.66739},
{"i":434,"o":0.66735,"h":0.66777,"l":0.66734,"c":0.66774},
{"i":435,"o":0.66773,"h":0.66778,"l":0.66744,"c":0.66754},
{"i":436,"o":0.66754,"h":0.66777,"l":0.66751,"c":0.66774},
{"i":437,"o":0.66778,"h":0.66783,"l":0.66738,"c":0.66766},
{"i":438,"o":0.66767,"h":0.66857,"l":0.66741,"c":0.6684},
{"i":439,"o":0.6684,"h":0.66907,"l":0.66839,"c":0.66862},
{"i":440,"o":0.66861,"h":0.66917,"l":0.66858,"c":0.66884},
{"i":441,"o":0.66883,"h":0.66917,"l":0.6683,"c":0.66841},
{"i":442,"o":0.66841,"h":0.6685,"l":0.66762,"c":0.66829},
{"i":443,"o":0.6683,"h":0.66897,"l":0.66827,"c":0.66894},
{"i":444,"o":0.66895,"h":0.66901,"l":0.66808,"c":0.66836},
{"i":445,"o":0.66836,"h":0.66901,"l":0.66814,"c":0.66875},
{"i":446,"o":0.66879,"h":0.66917,"l":0.66861,"c":0.66875},
{"i":447,"o":0.66879,"h":0.6691,"l":0.66845,"c":0.66892},
{"i":448,"o":0.66845,"h":0.6695,"l":0.66843,"c":0.66889},
{"i":449,"o":0.66847,"h":0.66849,"l":0.66769,"c":0.66786},
{"i":450,"o":0.66786,"h":0.66896,"l":0.66766,"c":0.66892},
{"i":451,"o":0.66892,"h":0.66942,"l":0.66889,"c":0.6691},
{"i":452,"o":0.66908,"h":0.66919,"l":0.66794,"c":0.66798},
{"i":453,"o":0.668,"h":0.66808,"l":0.66713,"c":0.66727},
{"i":454,"o":0.66727,"h":0.66805,"l":0.66721,"c":0.66758},
{"i":455,"o":0.66758,"h":0.66761,"l":0.6661,"c":0.6665},
{"i":456,"o":0.66652,"h":0.66706,"l":0.66627,"c":0.66682},
{"i":457,"o":0.66682,"h":0.66761,"l":0.6668,"c":0.66748},
{"i":458,"o":0.66745,"h":0.66778,"l":0.66735,"c":0.66738},
{"i":459,"o":0.66742,"h":0.66762,"l":0.66657,"c":0.66663},
{"i":460,"o":0.66707,"h":0.66717,"l":0.66632,"c":0.66636},
{"i":461,"o":0.66705,"h":0.66711,"l":0.666,"c":0.6664},
{"i":462,"o":0.66642,"h":0.66647,"l":0.66567,"c":0.66582},
{"i":463,"o":0.66582,"h":0.66593,"l":0.66525,"c":0.66554},
{"i":464,"o":0.66554,"h":0.66609,"l":0.66525,"c":0.66587},
{"i":465,"o":0.66584,"h":0.66647,"l":0.66536,"c":0.66609},
{"i":466,"o":0.66603,"h":0.66625,"l":0.6653,"c":0.66614},
{"i":467,"o":0.66617,"h":0.66663,"l":0.66508,"c":0.66532},
{"i":468,"o":0.66532,"h":0.66563,"l":0.66525,"c":0.66554},
{"i":469,"o":0.66551,"h":0.66636,"l":0.66541,"c":0.6663},
{"i":470,"o":0.66628,"h":0.66641,"l":0.66625,"c":0.66633},
{"i":471,"o":0.6663,"h":0.66697,"l":0.66628,"c":0.66693},
{"i":472,"o":0.66693,"h":0.6675,"l":0.6669,"c":0.66745},
{"i":473,"o":0.66742,"h":0.6675,"l":0.66707,"c":0.66712},
{"i":474,"o":0.66712,"h":0.66742,"l":0.66673,"c":0.66682},
{"i":475,"o":0.66682,"h":0.66803,"l":0.66679,"c":0.66799},
{"i":476,"o":0.66799,"h":0.66835,"l":0.66788,"c":0.66826},
{"i":477,"o":0.66826,"h":0.66875,"l":0.66809,"c":0.66854},
{"i":478,"o":0.66851,"h":0.66881,"l":0.66843,"c":0.6687},
{"i":479,"o":0.66869,"h":0.66875,"l":0.66843,"c":0.66851},
{"i":480,"o":0.6678,"h":0.66853,"l":0.66777,"c":0.66837},
{"i":481,"o":0.66837,"h":0.66862,"l":0.66832,"c":0.66851},
{"i":482,"o":0.66847,"h":0.66892,"l":0.66843,"c":0.66887},
{"i":483,"o":0.66885,"h":0.66921,"l":0.6688,"c":0.66915},
{"i":484,"o":0.66915,"h":0.66943,"l":0.6691,"c":0.66928},
{"i":485,"o":0.66924,"h":0.66954,"l":0.66918,"c":0.66932},
{"i":486,"o":0.66928,"h":0.67034,"l":0.66914,"c":0.67029},
{"i":487,"o":0.67025,"h":0.67177,"l":0.6701,"c":0.67146},
{"i":488,"o":0.67146,"h":0.67251,"l":0.67142,"c":0.67223},
{"i":489,"o":0.67223,"h":0.67254,"l":0.6716,"c":0.67199},
{"i":490,"o":0.67199,"h":0.67355,"l":0.67193,"c":0.67347},
{"i":491,"o":0.67347,"h":0.67416,"l":0.67339,"c":0.67365},
{"i":492,"o":0.67365,"h":0.67369,"l":0.67277,"c":0.67284},
{"i":493,"o":0.67284,"h":0.67286,"l":0.67165,"c":0.67182},
{"i":494,"o":0.67185,"h":0.67262,"l":0.67179,"c":0.67245},
{"i":495,"o":0.67248,"h":0.67265,"l":0.67209,"c":0.67218},
{"i":496,"o":0.67218,"h":0.67232,"l":0.66996,"c":0.67078},
{"i":497,"o":0.67078,"h":0.67177,"l":0.67067,"c":0.67138},
{"i":498,"o":0.67138,"h":0.6716,"l":0.67051,"c":0.67084},
{"i":499,"o":0.67084,"h":0.67149,"l":0.67054,"c":0.67144},
{"i":500,"o":0.67144,"h":0.67149,"l":0.66902,"c":0.66941},
{"i":501,"o":0.66941,"h":0.66947,"l":0.66826,"c":0.66881},
{"i":502,"o":0.66883,"h":0.66886,"l":0.66849,"c":0.6687},
{"i":503,"o":0.6687,"h":0.66908,"l":0.66849,"c":0.66902},
{"i":504,"o":0.66875,"h":0.66937,"l":0.6687,"c":0.66911},
{"i":505,"o":0.66908,"h":0.66945,"l":0.66905,"c":0.66938},
{"i":506,"o":0.66941,"h":0.66949,"l":0.66919,"c":0.66922},
{"i":507,"o":0.66922,"h":0.66936,"l":0.66872,"c":0.669},
{"i":508,"o":0.66893,"h":0.66914,"l":0.66849,"c":0.6689},
{"i":509,"o":0.66893,"h":0.66936,"l":0.66877,"c":0.66879},
{"i":510,"o":0.66882,"h":0.66936,"l":0.66855,"c":0.66899},
{"i":511,"o":0.66899,"h":0.67511,"l":0.66893,"c":0.67287},
{"i":512,"o":0.67287,"h":0.67649,"l":0.67276,"c":0.67643},
{"i":513,"o":0.67643,"h":0.67769,"l":0.67624,"c":0.67753},
{"i":514,"o":0.67753,"h":0.67895,"l":0.67676,"c":0.67771},
{"i":515,"o":0.67771,"h":0.6795,"l":0.67769,"c":0.67922},
{"i":516,"o":0.67922,"h":0.67928,"l":0.67911,"c":0.67917},
{"i":517,"o":0.67888,"h":0.67895,"l":0.67752,"c":0.67815},
{"i":518,"o":0.67815,"h":0.67931,"l":0.67811,"c":0.67903},
{"i":519,"o":0.67898,"h":0.67939,"l":0.67868,"c":0.67925},
{"i":520,"o":0.67922,"h":0.67958,"l":0.67881,"c":0.6789},
{"i":521,"o":0.67887,"h":0.67928,"l":0.67857,"c":0.67898},
{"i":522,"o":0.67884,"h":0.67922,"l":0.67866,"c":0.67898},
{"i":523,"o":0.679,"h":0.67933,"l":0.67848,"c":0.67922},
{"i":524,"o":0.6792,"h":0.67924,"l":0.67835,"c":0.67865},
{"i":525,"o":0.67868,"h":0.67914,"l":0.67862,"c":0.67911},
{"i":526,"o":0.67889,"h":0.67917,"l":0.67881,"c":0.67906},
{"i":527,"o":0.67906,"h":0.67911,"l":0.67879,"c":0.67884},
{"i":528,"o":0.6784,"h":0.67898,"l":0.67837,"c":0.6789},
{"i":529,"o":0.6789,"h":0.67895,"l":0.67845,"c":0.67859},
{"i":530,"o":0.67866,"h":0.67898,"l":0.67859,"c":0.67892},
{"i":531,"o":0.67884,"h":0.67898,"l":0.67868,"c":0.67887},
{"i":532,"o":0.67866,"h":0.6789,"l":0.67862,"c":0.67887},
{"i":533,"o":0.6792,"h":0.67925,"l":0.67862,"c":0.67866},
{"i":534,"o":0.67887,"h":0.6799,"l":0.67862,"c":0.67942},
{"i":535,"o":0.67942,"h":0.67968,"l":0.67884,"c":0.67887},
{"i":536,"o":0.67887,"h":0.67903,"l":0.67851,"c":0.67884},
{"i":537,"o":0.67884,"h":0.68001,"l":0.67881,"c":0.67994},
{"i":538,"o":0.6799,"h":0.68056,"l":0.67906,"c":0.68027},
{"i":539,"o":0.68027,"h":0.68114,"l":0.67966,"c":0.68103},
{"i":540,"o":0.68103,"h":0.68125,"l":0.6807,"c":0.68106},
{"i":541,"o":0.68106,"h":0.68143,"l":0.68041,"c":0.68083}
    ]
  },
  "layer": [
    {
      "data": {"name": "candles"},
      "mark": {"type": "rule", "color": "#000000", "strokeWidth": 1, "opacity": 0},
      "encoding": {
        "x": {
          "field": "i", "type": "quantitative",
          "scale": {"domain": [-0.375, 934.875], "nice": false, "zero": false},
          "axis": {
            "title": null,
            "values": [0, 16, 32, 48, 64, 80, 96, 112, 128, 144, 160, 176, 192, 208, 224, 240, 256, 272, 288, 304, 320, 336, 352, 368, 384, 400, 416, 432, 448, 464, 480, 496, 512, 528, 544, 560, 576, 592, 608, 624, 640, 656, 672, 688, 704, 720, 736, 752, 768, 784, 800, 816, 832, 848, 864, 880, 896, 912, 928],
            "labelExpr": "datum.value <= 512 && datum.value % 32 == 0 ? ['28 Jun 2023','28 Jun 16:00','29 Jun 08:00','30 Jun 00:00','30 Jun 16:00','3 Jul 08:00','4 Jul 00:00','4 Jul 16:00','5 Jul 08:00','6 Jul 00:00','6 Jul 16:00','7 Jul 08:00','10 Jul 00:00','10 Jul 16:00','11 Jul 08:00','12 Jul 00:00','12 Jul 16:00'][datum.value / 32] : ''",
            "tickOpacity": {"condition": {"test": "datum.value <= 512 && datum.value % 32 == 0", "value": 1}, "value": 0},
            "labelAlign": "left", "labelPadding": 2, "labelOffset": -4
          }
        },
        "y": {
          "field": "l", "type": "quantitative",
          "scale": {"domain": [0.6565, 0.68503], "nice": false, "zero": false},
          "axis": {
            "orient": "right", "title": null, "format": ".5f",
            "values": [0.657, 0.65795, 0.6589, 0.65985, 0.6608, 0.66175, 0.6627, 0.66365, 0.6646, 0.66555, 0.6665, 0.66745, 0.6684, 0.66935, 0.6703, 0.67125, 0.6722, 0.67315, 0.6741, 0.67505, 0.676, 0.67695, 0.6779, 0.67885, 0.6798, 0.68075, 0.6817, 0.68265, 0.6836, 0.68455],
            "labelAlign": "left", "labelPadding": 7
          }
        }
      }
    },
    {
      "data": {"name": "levels"},
      "mark": {"type": "rule"},
      "encoding": {
        "y": {"field": "p", "type": "quantitative"},
        "stroke": {"field": "k", "type": "nominal", "legend": null,
          "scale": {"domain": ["mn", "piv", "oct", "rng", "qtr", "cur"], "range": ["#1e90ff", "#1e90ff", "#ff8c00", "#ff4500", "#556b2f", "#c0c0c0"]}},
        "strokeDash": {"field": "k", "type": "nominal", "legend": null,
          "scale": {"domain": ["mn", "piv", "oct", "rng", "qtr", "cur"], "range": [[1, 0], [1, 0], [15, 9], [1, 0], [18, 14], [1, 0]]}},
        "strokeWidth": {"field": "k", "type": "nominal", "legend": null,
          "scale": {"domain": ["mn", "piv", "oct", "rng", "qtr", "cur"], "range": [2, 1, 1, 1, 1, 1]}}
      }
    },
    {
      "data": {"name": "levels"},
      "transform": [{"filter": "datum.k != 'cur'"}],
      "mark": {"type": "text", "font": "Liberation Sans", "fontSize": 21, "align": "center", "baseline": "top", "dy": 0},
      "encoding": {
        "x": {"datum": 515.1, "type": "quantitative"},
        "y": {"field": "p", "type": "quantitative"},
        "text": {"field": "t"},
        "color": {"field": "k", "type": "nominal", "legend": null,
          "scale": {"domain": ["mn", "piv", "oct", "rng", "qtr", "cur"], "range": ["#1e90ff", "#1e90ff", "#ff8c00", "#ff4500", "#556b2f", "#000000"]}}
      }
    },
    {
      "data": {"name": "header"},
      "mark": {"type": "text", "font": "Liberation Sans", "fontSize": 18, "align": "left", "baseline": "alphabetic", "color": "#000000"},
      "encoding": {
        "x": {"datum": 0.6, "type": "quantitative"},
        "y": {"datum": 0.68474, "type": "quantitative"},
        "text": {"field": "t"}
      }
    },
    {
      "data": {"name": "candles"},
      "mark": {"type": "rule", "color": "#000000", "strokeWidth": 1},
      "encoding": {
        "x": {"field": "i", "type": "quantitative"},
        "y": {"field": "l", "type": "quantitative"},
        "y2": {"field": "h"}
      }
    },
    {
      "data": {"name": "candles"},
      "mark": {"type": "bar", "size": 2, "stroke": "#000000", "strokeWidth": 1},
      "encoding": {
        "x": {"field": "i", "type": "quantitative"},
        "y": {"field": "o", "type": "quantitative"},
        "y2": {"field": "c"},
        "fill": {"condition": {"test": "datum.c >= datum.o", "value": "#ffffff"}, "value": "#000000"}
      }
    },
    {
      "data": {"name": "crosses"},
      "mark": {"type": "point", "shape": "M-1,-1L1,1M-1,1L1,-1", "filled": false, "size": 800, "stroke": "#ee3b3b", "strokeWidth": 6, "opacity": 1},
      "encoding": {
        "x": {"field": "i", "type": "quantitative"},
        "y": {"field": "p", "type": "quantitative"}
      }
    },
    {
      "data": {"name": "levels"},
      "mark": {"type": "tick", "orient": "horizontal", "size": 81, "thickness": 24, "opacity": 1},
      "encoding": {
        "x": {"datum": 945.75, "type": "quantitative"},
        "y": {"field": "p", "type": "quantitative"},
        "color": {"field": "k", "type": "nominal", "legend": null,
          "scale": {"domain": ["mn", "piv", "oct", "rng", "qtr", "cur"], "range": ["#1e90ff", "#1e90ff", "#ff8c00", "#ff4500", "#556b2f", "#000000"]}}
      }
    },
    {
      "data": {"name": "levels"},
      "mark": {"type": "text", "font": "Liberation Sans", "fontSize": 18, "align": "center", "baseline": "middle", "color": "#ffffff"},
      "encoding": {
        "x": {"datum": 945.75, "type": "quantitative"},
        "y": {"field": "p", "type": "quantitative"},
        "text": {"field": "p", "type": "quantitative", "format": ".5f"}
      }
    }
  ]
}
